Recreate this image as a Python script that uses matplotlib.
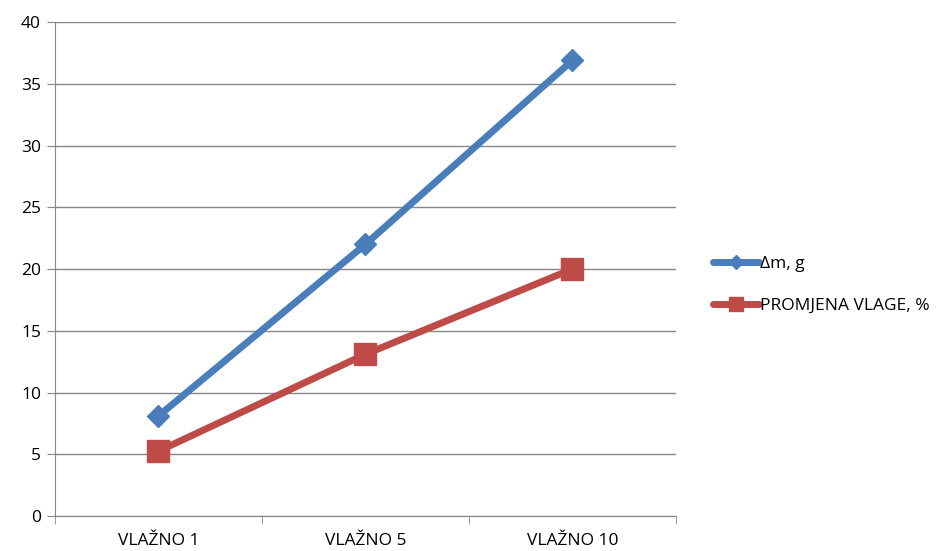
import numpy as np
import matplotlib.pyplot as plt

categories = ['VLAŽNO 1', 'VLAŽNO 5', 'VLAŽNO 10']
delta_m = [8.1, 22.0, 36.9]
promjena_vlage = [5.25, 13.1, 20.0]

plt.rcParams['font.family'] = ['Open Sans', 'DejaVu Sans']

fig = plt.figure(figsize=(9.46, 5.51), dpi=100)
ax = fig.add_axes([0.058, 0.0635, 0.6566, 0.8965])

x = np.arange(len(categories))
ax.plot(x, delta_m, color='#4a7ebb', lw=5, marker='D', ms=11,
        label='Δm, g', solid_capstyle='round', zorder=3)
ax.plot(x, promjena_vlage, color='#be4b48', lw=5, marker='s', ms=16,
        label='PROMJENA VLAGE, %', solid_capstyle='round', zorder=3)

ax.set_xlim(-0.5, 2.5)
ax.set_ylim(0, 40)
ax.set_yticks(np.arange(0, 41, 5))
ax.set_xticks(x)
ax.set_xticklabels(categories)
ax.set_xticks([-0.5, 0.5, 1.5, 2.5], minor=True)
ax.tick_params(axis='x', which='major', length=0, pad=12, labelsize=12.5)
ax.tick_params(axis='x', which='minor', length=6, color='#868686')
ax.tick_params(axis='y', length=6, color='#868686', labelsize=12.5, pad=4)

ax.grid(axis='y', color='#868686', lw=1)
ax.set_axisbelow(True)
for s in ['top', 'right']:
    ax.spines[s].set_visible(False)
for s in ['left', 'bottom']:
    ax.spines[s].set_color('#868686')

ax.legend(loc='center left', bbox_to_anchor=(1.035, 0.468), frameon=False,
          fontsize=12.5, handlelength=2.6, labelspacing=1.5, handletextpad=0.1,
          markerscale=0.65)

fig.savefig('out.png', dpi=100)
